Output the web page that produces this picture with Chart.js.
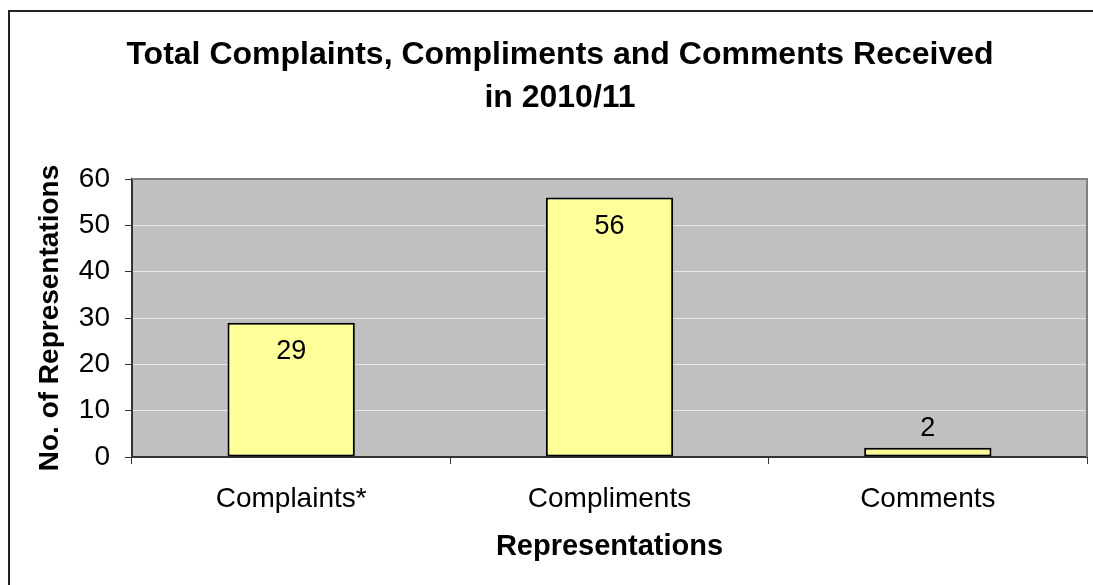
<!DOCTYPE html>
<html>
<head>
<meta charset="utf-8">
<script src="https://cdn.jsdelivr.net/npm/chart.js@4/dist/chart.umd.min.js"></script>
<style>
  html, body { margin: 0; padding: 0; background: #fff; overflow: hidden; }
  #frame { position: absolute; left: 8px; top: 10px; width: 1200px; height: 700px; border: 2px solid #222; box-sizing: border-box; }
  #c { position: absolute; left: 0; top: 0; }
</style>
</head>
<body>
<div id="frame"></div>
<canvas id="c" width="1093" height="585"></canvas>
<script>
const categories = ['Complaints*', 'Compliments', 'Comments'];
const values = [29, 56, 2];
const yTicks = [0, 10, 20, 30, 40, 50, 60];
const titleLines = ['Total Complaints, Compliments and Comments Received', 'in 2010/11'];
const xTitle = 'Representations';
const yTitle = 'No. of Representations';

const FONT = "'Liberation Sans', Arial, sans-serif";

const plotBg = {
  id: 'plotBg',
  beforeDraw(chart) {
    const { ctx, chartArea: a } = chart;
    ctx.save();
    ctx.fillStyle = '#C0C0C0';
    ctx.fillRect(a.left, a.top, a.right - a.left, a.bottom - a.top);
    ctx.restore();
  },
  afterDatasetsDraw(chart) {
    const { ctx, chartArea: a } = chart;
    ctx.save();
    ctx.strokeStyle = '#808080';
    ctx.lineWidth = 2;
    ctx.beginPath();
    ctx.moveTo(a.left, a.top);
    ctx.lineTo(a.right, a.top);
    ctx.lineTo(a.right, a.bottom);
    ctx.stroke();
    ctx.restore();
  }
};

const barLabels = {
  id: 'barLabels',
  afterDatasetsDraw(chart) {
    const { ctx } = chart;
    const meta = chart.getDatasetMeta(0);
    ctx.save();
    ctx.font = '27px ' + FONT;
    ctx.fillStyle = '#000';
    ctx.textAlign = 'center';
    ctx.textBaseline = 'middle';
    meta.data.forEach((bar, i) => {
      const h = bar.base - bar.y;
      const y = h > 45 ? bar.y + 29 : bar.y - 19;
      ctx.fillText(String(values[i]), bar.x, y);
    });
    ctx.restore();
  }
};

new Chart(document.getElementById('c'), {
  type: 'bar',
  data: {
    labels: categories,
    datasets: [{
      data: values,
      backgroundColor: '#FFFF99',
      borderColor: '#000000',
      borderWidth: 2,
      borderSkipped: false,
      barPercentage: 0.4,
      categoryPercentage: 1.0
    }]
  },
  options: {
    responsive: false,
    animation: false,
    devicePixelRatio: 1,
    layout: { padding: { left: 33, right: 6, top: 0, bottom: 0 } },
    plugins: {
      legend: { display: false },
      tooltip: { enabled: false },
      title: {
        display: true,
        text: titleLines,
        color: '#000',
        font: { family: FONT, size: 32, weight: 'bold', lineHeight: 1.344 },
        padding: { top: 34, bottom: 59 }
      }
    },
    scales: {
      x: {
        offset: true,
        grid: { offset: true, drawOnChartArea: false, drawTicks: true, tickLength: 7, tickColor: '#333', lineWidth: 1 },
        border: { color: '#333', width: 2 },
        ticks: { color: '#000', font: { family: FONT, size: 28 }, padding: 18, maxRotation: 0 },
        title: { display: true, text: xTitle, color: '#000', font: { family: FONT, size: 29, weight: 'bold' }, padding: { top: 10, bottom: 21 } },
        afterFit(s) { s.height = 128; }
      },
      y: {
        min: 0,
        max: 60,
        afterBuildTicks(s) { s.ticks = yTicks.map(v => ({ value: v })); },
        grid: {
          color: ctx => (ctx.tick && (ctx.tick.value === 0 || ctx.tick.value === 60)) ? 'rgba(0,0,0,0)' : '#E6E6E6',
          lineWidth: 1,
          tickLength: 7,
          tickColor: '#333'
        },
        border: { color: '#333', width: 2 },
        ticks: { color: '#000', font: { family: FONT, size: 28 }, padding: 15 },
        title: { display: true, text: yTitle, color: '#000', font: { family: FONT, size: 28, weight: 'bold' }, padding: { top: 0, bottom: 0 } },
        afterFit(s) { s.width = 99; }
      }
    }
  },
  plugins: [plotBg, barLabels]
});
</script>
</body>
</html>
